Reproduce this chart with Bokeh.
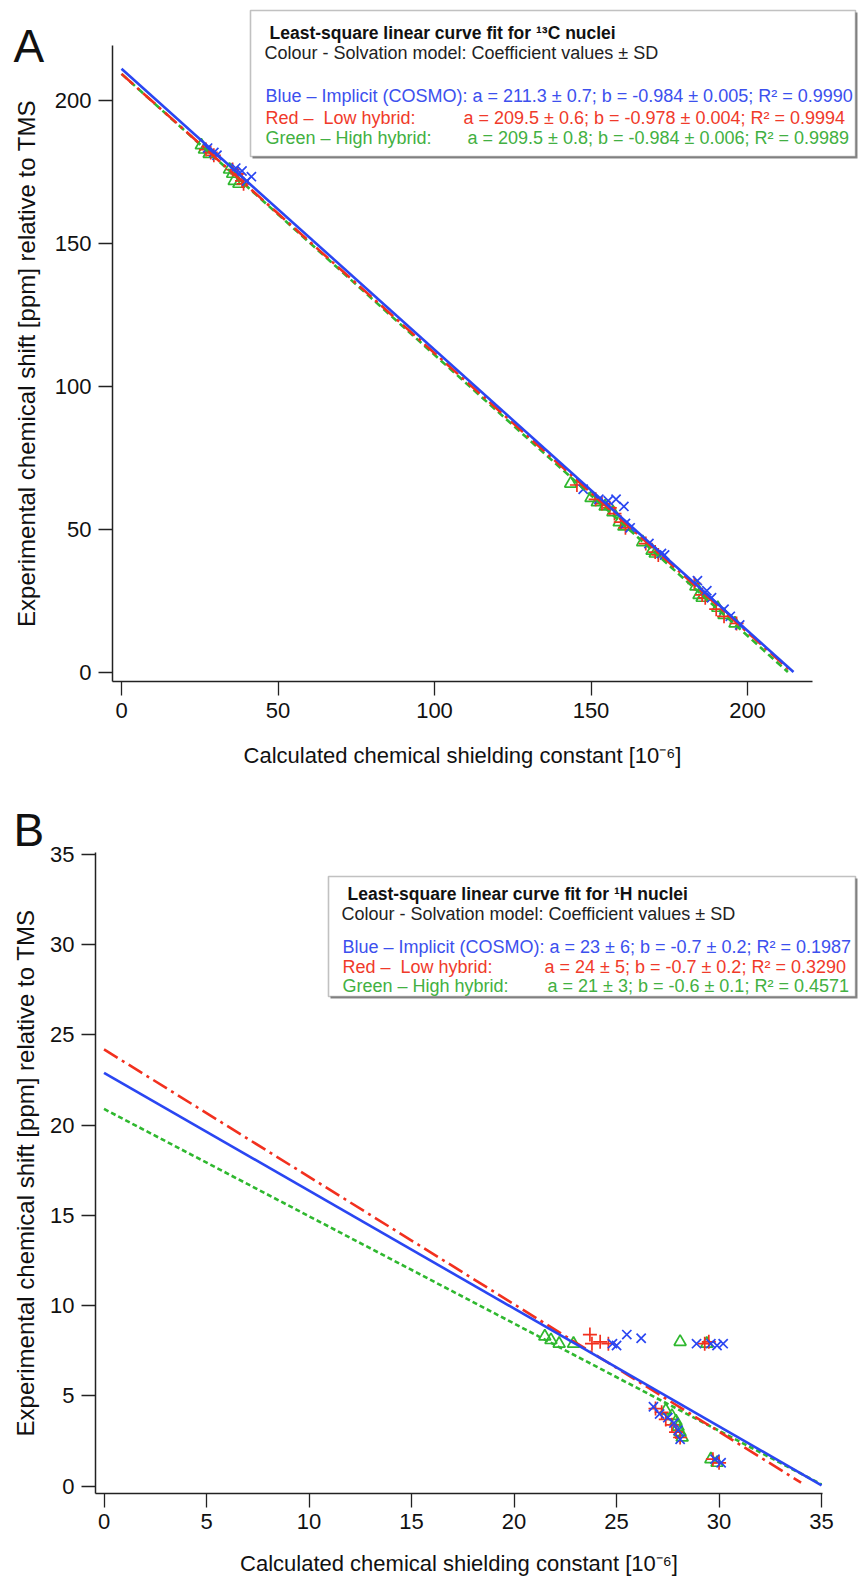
from bokeh.plotting import figure
from bokeh.layouts import column
from bokeh.models import Label, BoxAnnotation, FixedTicker, Range1d
from bokeh.embed import file_html
from bokeh.resources import INLINE

# ---------------- Panel A: 13C ----------------
a_blue_x = [27.5, 29.5, 30.5, 36.5, 38.5, 40.0, 41.5, 147.5, 152.5, 155.5, 158.0, 160.5, 161.0, 162.5, 168.5, 172.5, 173.5, 184.0, 187.0, 188.5, 192.5, 194.5, 197.5]
a_blue_y = [183.5, 182.0, 181.0, 176.5, 175.5, 172.0, 173.5, 64.0, 60.5, 60.0, 60.5, 58.0, 52.0, 50.5, 45.0, 41.5, 41.0, 32.0, 28.5, 26.0, 22.0, 19.5, 16.5]
a_red_x = [27.0, 28.5, 29.5, 35.5, 37.0, 38.5, 39.0, 145.5, 151.5, 153.5, 156.0, 157.5, 159.5, 161.0, 167.5, 170.5, 171.5, 183.0, 185.5, 186.5, 190.0, 192.5, 196.5]
a_red_y = [183.0, 182.0, 181.0, 176.0, 174.5, 172.0, 171.0, 65.5, 60.5, 59.0, 57.5, 55.5, 52.5, 50.5, 45.0, 42.0, 41.0, 31.0, 27.0, 26.0, 22.0, 19.5, 17.0]
a_green_x = [25.5, 26.5, 28.0, 34.5, 35.5, 36.0, 37.5, 143.5, 150.0, 152.0, 154.5, 157.0, 159.0, 160.5, 166.5, 169.5, 170.5, 183.5, 184.5, 185.5, 190.5, 192.5, 196.0]
a_green_y = [184.5, 183.0, 181.5, 176.0, 174.5, 172.0, 171.0, 66.0, 61.0, 59.5, 58.0, 56.0, 52.5, 51.0, 45.5, 42.5, 41.5, 30.0, 27.0, 26.0, 22.5, 20.0, 17.0]
# fitted lines (end points)
a_fit_blue_x = [0, 214.7]
a_fit_blue_y = [211.3, 0]
a_fit_red_x = [0, 214.2]
a_fit_red_y = [209.5, 0]
a_fit_green_x = [0, 212.9]
a_fit_green_y = [209.5, 0]
a_ticks = [0, 50, 100, 150, 200]

# ---------------- Panel B: 1H ----------------
b_blue_x = [24.8, 25.0, 25.5, 26.2, 28.9, 29.6, 29.9, 30.2, 26.8, 27.1, 27.5, 27.8, 28.0, 28.1, 29.8, 30.1]
b_blue_y = [7.9, 7.8, 8.4, 8.2, 7.9, 7.9, 7.8, 7.9, 4.4, 4.0, 3.8, 3.5, 3.1, 2.6, 1.5, 1.3]
b_red_x = [23.7, 23.8, 24.2, 24.6, 29.3, 29.5, 26.9, 27.2, 27.4, 27.7, 27.9, 28.1, 29.7, 30.0]
b_red_y = [8.4, 7.9, 8.0, 7.9, 7.9, 8.0, 4.3, 4.1, 3.7, 3.4, 3.0, 2.7, 1.5, 1.3]
b_green_x = [21.5, 21.8, 22.2, 22.9, 28.1, 29.4, 27.4, 27.7, 27.9, 28.0, 28.1, 28.2, 29.6, 29.9]
b_green_y = [8.3, 8.1, 7.9, 7.9, 8.0, 7.9, 4.2, 3.9, 3.6, 3.3, 3.0, 2.7, 1.5, 1.3]
b_fit_blue_x = [0, 35.0]
b_fit_blue_y = [22.9, 0.05]
b_fit_red_x = [0, 34.0]
b_fit_red_y = [24.2, 0.2]
b_fit_green_x = [0, 35.0]
b_fit_green_y = [20.9, 0.1]
b_ticks = [0, 5, 10, 15, 20, 25, 30, 35]

# legend texts
a_title = "Least-square linear curve fit for \u00b9\u00b3C nuclei"
b_title = "Least-square linear curve fit for \u00b9H nuclei"
sub_title = "Colour - Solvation model: Coefficient values \u00b1 SD"
a_rows = [("Blue \u2013 Implicit (COSMO): a = 211.3 \u00b1 0.7; b = -0.984 \u00b1 0.005; R\u00b2 = 0.9990", ""),
          ("Red \u2013\u00a0 Low hybrid:", "a = 209.5 \u00b1 0.6; b = -0.978 \u00b1 0.004; R\u00b2 = 0.9994"),
          ("Green \u2013 High hybrid:", "a = 209.5 \u00b1 0.8; b = -0.984 \u00b1 0.006; R\u00b2 = 0.9989")]
b_rows = [("Blue \u2013 Implicit (COSMO): a = 23 \u00b1 6; b = -0.7 \u00b1 0.2; R\u00b2 = 0.1987", ""),
          ("Red \u2013\u00a0 Low hybrid:", "a = 24 \u00b1 5; b = -0.7 \u00b1 0.2; R\u00b2 = 0.3290"),
          ("Green \u2013 High hybrid:", "a = 21 \u00b1 3; b = -0.6 \u00b1 0.1; R\u00b2 = 0.4571")]

x_title = "Calculated chemical shielding constant [10\u207b\u2076]"
y_title = "Experimental chemical shift [ppm] relative to TMS"

BLUE = "#2a46f2"
RED = "#f2301e"
GREEN = "#2fb82f"
T_BLUE = "#3c50ee"
T_RED = "#f03a2a"
T_GREEN = "#42b042"
FONT = "Liberation Sans"
AX = "#222222"


def style(p, ticks, xloc, yloc, xbounds, ybounds, xstand, ystand):
    p.outline_line_color = None
    p.xgrid.visible = False
    p.ygrid.visible = False
    p.background_fill_color = "white"
    p.border_fill_color = "white"
    for ax in (p.xaxis[0], p.yaxis[0]):
        ax.axis_line_color = AX
        ax.axis_line_width = 1.5
        ax.major_tick_line_color = AX
        ax.major_tick_line_width = 1.3
        ax.major_tick_out = 14
        ax.major_tick_in = 0
        ax.minor_tick_line_color = None
        ax.major_label_text_font = FONT
        ax.major_label_text_font_size = "22px"
        ax.major_label_text_color = "#111111"
        ax.major_label_standoff = 7
        ax.axis_label_text_font = FONT
        ax.axis_label_text_font_style = "normal"
        ax.axis_label_text_color = "#111111"
    p.xaxis[0].axis_label_text_font_size = "22px"
    p.yaxis[0].axis_label_text_font_size = "24px"
    p.xaxis[0].ticker = FixedTicker(ticks=ticks)
    p.yaxis[0].ticker = FixedTicker(ticks=ticks)
    p.xaxis[0].axis_label = x_title
    p.yaxis[0].axis_label = y_title
    p.xaxis[0].axis_label_standoff = xstand
    p.yaxis[0].axis_label_standoff = ystand
    p.xaxis[0].fixed_location = xloc
    p.yaxis[0].fixed_location = yloc
    p.xaxis[0].bounds = xbounds
    p.yaxis[0].bounds = ybounds


def lab(p, x, y, text, color, size="18px", style="normal"):
    p.add_layout(Label(x=x, y=y, x_units="screen", y_units="screen", text=text,
                       text_font=FONT, text_font_size=size, text_font_style=style,
                       text_color=color, text_baseline="middle", level="overlay"))


def legend(p, box, title, rows, pos):
    l, r, t, b = box
    # light drop shadow
    p.add_layout(BoxAnnotation(left=l + 2, right=r + 2, top=t - 2, bottom=b - 2,
                               left_units="screen", right_units="screen",
                               top_units="screen", bottom_units="screen",
                               fill_color="#888888", fill_alpha=1.0,
                               line_color=None, level="overlay"))
    p.add_layout(BoxAnnotation(left=l, right=r, top=t, bottom=b,
                               left_units="screen", right_units="screen",
                               top_units="screen", bottom_units="screen",
                               fill_color="white", fill_alpha=1.0,
                               line_color="#333333", line_width=1.6, level="overlay"))
    lab(p, pos["title"][0], pos["title"][1], title, "#111111", "17.5px", "bold")
    lab(p, pos["sub"][0], pos["sub"][1], sub_title, "#222222")
    cols = [T_BLUE, T_RED, T_GREEN]
    for i, (name, eq) in enumerate(rows):
        lab(p, pos["name_x"], pos["rows_y"][i], name, cols[i])
        if eq:
            lab(p, pos["eq_x"][i], pos["rows_y"][i], eq, cols[i])


def draw(p, bx, by, rx, ry, gx, gy, fits, dash_g):
    p.scatter(gx, gy, marker="triangle", size=12, fill_color=None, line_color=GREEN, line_width=1.7)
    p.scatter(rx, ry, marker="cross", size=14, line_color=RED, line_width=1.7)
    p.scatter(bx, by, marker="x", size=13, line_color=BLUE, line_width=1.7)
    (fbx, fby), (frx, fry), (fgx, fgy) = fits
    p.line(fgx, fgy, line_color=GREEN, line_width=2.6, line_dash=dash_g)
    p.line(frx, fry, line_color=RED, line_width=2.6, line_dash="16 5 3 5")
    p.line(fbx, fby, line_color=BLUE, line_width=2.6)


# ---------- figure A (page rows 0..783) ----------
pA = figure(width=859, height=783, x_range=Range1d(-38.66, 235.78), y_range=Range1d(-39.05, 235.2),
            output_backend="svg", toolbar_location=None, title=None, min_border=0)
style(pA, a_ticks, -3.33, -2.875, (-2.875, 220.8), (-3.33, 219.4), 22, 12)
draw(pA, a_blue_x, a_blue_y, a_red_x, a_red_y, a_green_x, a_green_y,
     [(a_fit_blue_x, a_fit_blue_y), (a_fit_red_x, a_fit_red_y), (a_fit_green_x, a_fit_green_y)], "7 4")
legend(pA, (250, 855, 773, 627), a_title, a_rows,
       {"title": (269, 751), "sub": (264, 731), "name_x": 265, "rows_y": [688, 666, 646], "eq_x": [0, 463, 467]})
pA.add_layout(Label(x=13, y=738, x_units="screen", y_units="screen", text="A",
                    text_font=FONT, text_font_size="46px", text_color="#111111",
                    text_baseline="middle"))

# ---------- figure B (page rows 783..1576) ----------
pB = figure(width=859, height=793, x_range=Range1d(-5.05, 36.85), y_range=Range1d(-5.0, 38.93),
            output_backend="svg", toolbar_location=None, title=None, min_border=0)
style(pB, b_ticks, -0.40, -0.415, (-0.415, 35.05), (-0.40, 35.1), 18, 8)
draw(pB, b_blue_x, b_blue_y, b_red_x, b_red_y, b_green_x, b_green_y,
     [(b_fit_blue_x, b_fit_blue_y), (b_fit_red_x, b_fit_red_y), (b_fit_green_x, b_fit_green_y)], "5 3")
legend(pB, (328, 855, 700, 580), b_title, b_rows,
       {"title": (347, 683), "sub": (341, 663), "name_x": 342, "rows_y": [630, 610, 591], "eq_x": [0, 544, 547]})
pB.add_layout(Label(x=13, y=747, x_units="screen", y_units="screen", text="B",
                    text_font=FONT, text_font_size="46px", text_color="#111111",
                    text_baseline="middle"))

layout = column(pA, pB, spacing=0)
open("out.html", "w").write(file_html(layout, INLINE))
